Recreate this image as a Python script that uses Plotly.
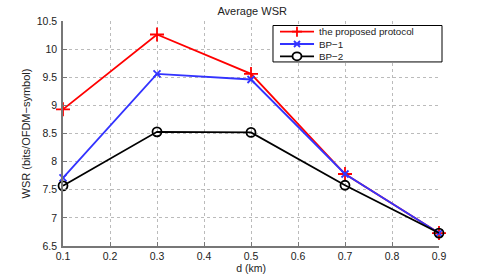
import plotly.graph_objects as go

d_km = [0.1, 0.3, 0.5, 0.7, 0.9]
proposed = [8.93, 10.26, 9.56, 7.78, 6.73]
bp1 = [7.71, 9.56, 9.46, 7.78, 6.73]
bp2 = [7.57, 8.53, 8.52, 7.58, 6.73]

series_names = ["the proposed protocol", "BP\u22121", "BP\u22122"]
series_colors = ["#ff0000", "#3333ff", "#000000"]

x_ticks = [0.1, 0.2, 0.3, 0.4, 0.5, 0.6, 0.7, 0.8, 0.9]
y_ticks = [6.5, 7, 7.5, 8, 8.5, 9, 9.5, 10, 10.5]

font = "Liberation Sans, Arial, sans-serif"
LW = 1.8

fig = go.Figure()
fig.add_trace(go.Scatter(x=d_km, y=proposed, name=series_names[0], mode="lines+markers",
                         line=dict(color=series_colors[0], width=LW), cliponaxis=False,
                         marker=dict(symbol="cross-thin-open", size=10, line=dict(color=series_colors[0], width=LW))))
fig.add_trace(go.Scatter(x=d_km, y=bp1, name=series_names[1], mode="lines+markers",
                         line=dict(color=series_colors[1], width=LW), cliponaxis=False,
                         marker=dict(symbol="x-thin-open", size=7, line=dict(color=series_colors[1], width=LW))))
fig.add_trace(go.Scatter(x=d_km, y=bp2, name=series_names[2], mode="lines+markers",
                         line=dict(color=series_colors[2], width=LW), cliponaxis=False,
                         marker=dict(symbol="circle-open", size=9, line=dict(color=series_colors[2], width=LW))))

# ---- compact MATLAB-style legend (decoration only) ----
shapes = []
box_x0, box_x1, box_y0, box_y1 = 0.5585, 1.008, 0.818, 0.980
shapes.append(dict(type="rect", xref="paper", yref="paper", x0=box_x0, x1=box_x1, y0=box_y0, y1=box_y1,
                   line=dict(color="black", width=1), fillcolor="white", layer="above"))
row_y = [0.9527, 0.8978, 0.8429]
lx0, lx1, lmid, tx = 0.5771, 0.6676, 0.6223, 0.6782
for i, col in enumerate(series_colors):
    y = row_y[i]
    shapes.append(dict(type="line", xref="paper", yref="paper", x0=lx0, x1=lx1, y0=y, y1=y,
                       line=dict(color=col, width=LW), layer="above"))
    if i == 0:
        shapes.append(dict(type="path", xref="paper", yref="paper", xsizemode="pixel", ysizemode="pixel",
                           xanchor=lmid, yanchor=y, path="M-5,0 L5,0 M0,-5 L0,5",
                           line=dict(color=col, width=LW), layer="above"))
    elif i == 1:
        shapes.append(dict(type="path", xref="paper", yref="paper", xsizemode="pixel", ysizemode="pixel",
                           xanchor=lmid, yanchor=y, path="M-3,-3 L3,3 M-3,3 L3,-3",
                           line=dict(color=col, width=LW), layer="above"))
    else:
        shapes.append(dict(type="circle", xref="paper", yref="paper", xsizemode="pixel", ysizemode="pixel",
                           xanchor=lmid, yanchor=y, x0=-4.5, x1=4.5, y0=-4, y1=4,
                           line=dict(color=col, width=LW), fillcolor="white", layer="above"))
annotations = [dict(text="<br>".join(series_names), xref="paper", yref="paper", x=tx, y=row_y[1],
                    xanchor="left", yanchor="middle", align="left", showarrow=False, borderpad=0,
                    font=dict(size=9.8, family=font, color="#222"))]

fig.update_layout(
    width=485, height=277,
    margin=dict(l=63, r=46, t=21, b=31),
    paper_bgcolor="white", plot_bgcolor="white",
    font=dict(family=font, size=10, color="#222"),
    title=dict(text="Average WSR", x=0.52, xanchor="center", y=0.96, yanchor="middle",
               font=dict(size=11, family=font, color="#222")),
    showlegend=False,
    shapes=shapes,
    annotations=annotations,
)
fig.update_xaxes(range=[0.1, 0.9], tickvals=x_ticks, ticktext=[str(v) for v in x_ticks],
                 showgrid=True, gridcolor="#bbbbbb", griddash="dot", gridwidth=1,
                 showline=True, linecolor="#777777", linewidth=1.5, automargin=False,
                 ticks="inside", ticklen=4, tickcolor="#777777", ticklabelstandoff=0,
                 tickfont=dict(size=10.5),
                 zeroline=False, title=dict(text="d (km)", standoff=0, font=dict(size=10.5)))
fig.update_yaxes(range=[6.5, 10.5], tickvals=y_ticks, ticktext=[f"{v:g}" for v in y_ticks],
                 showgrid=True, gridcolor="#bbbbbb", griddash="dot", gridwidth=1,
                 showline=True, linecolor="#777777", linewidth=1.5, automargin=False,
                 ticks="inside", ticklen=4, tickcolor="#777777", ticklabelstandoff=2,
                 tickfont=dict(size=10.5),
                 zeroline=False, title=dict(text="WSR (bits/OFDM\u2212symbol)", standoff=4, font=dict(size=11)))

fig.write_html("out.html", config={"displayModeBar": False},
               post_script="document.body.style.margin='0';document.body.style.padding='0';")
